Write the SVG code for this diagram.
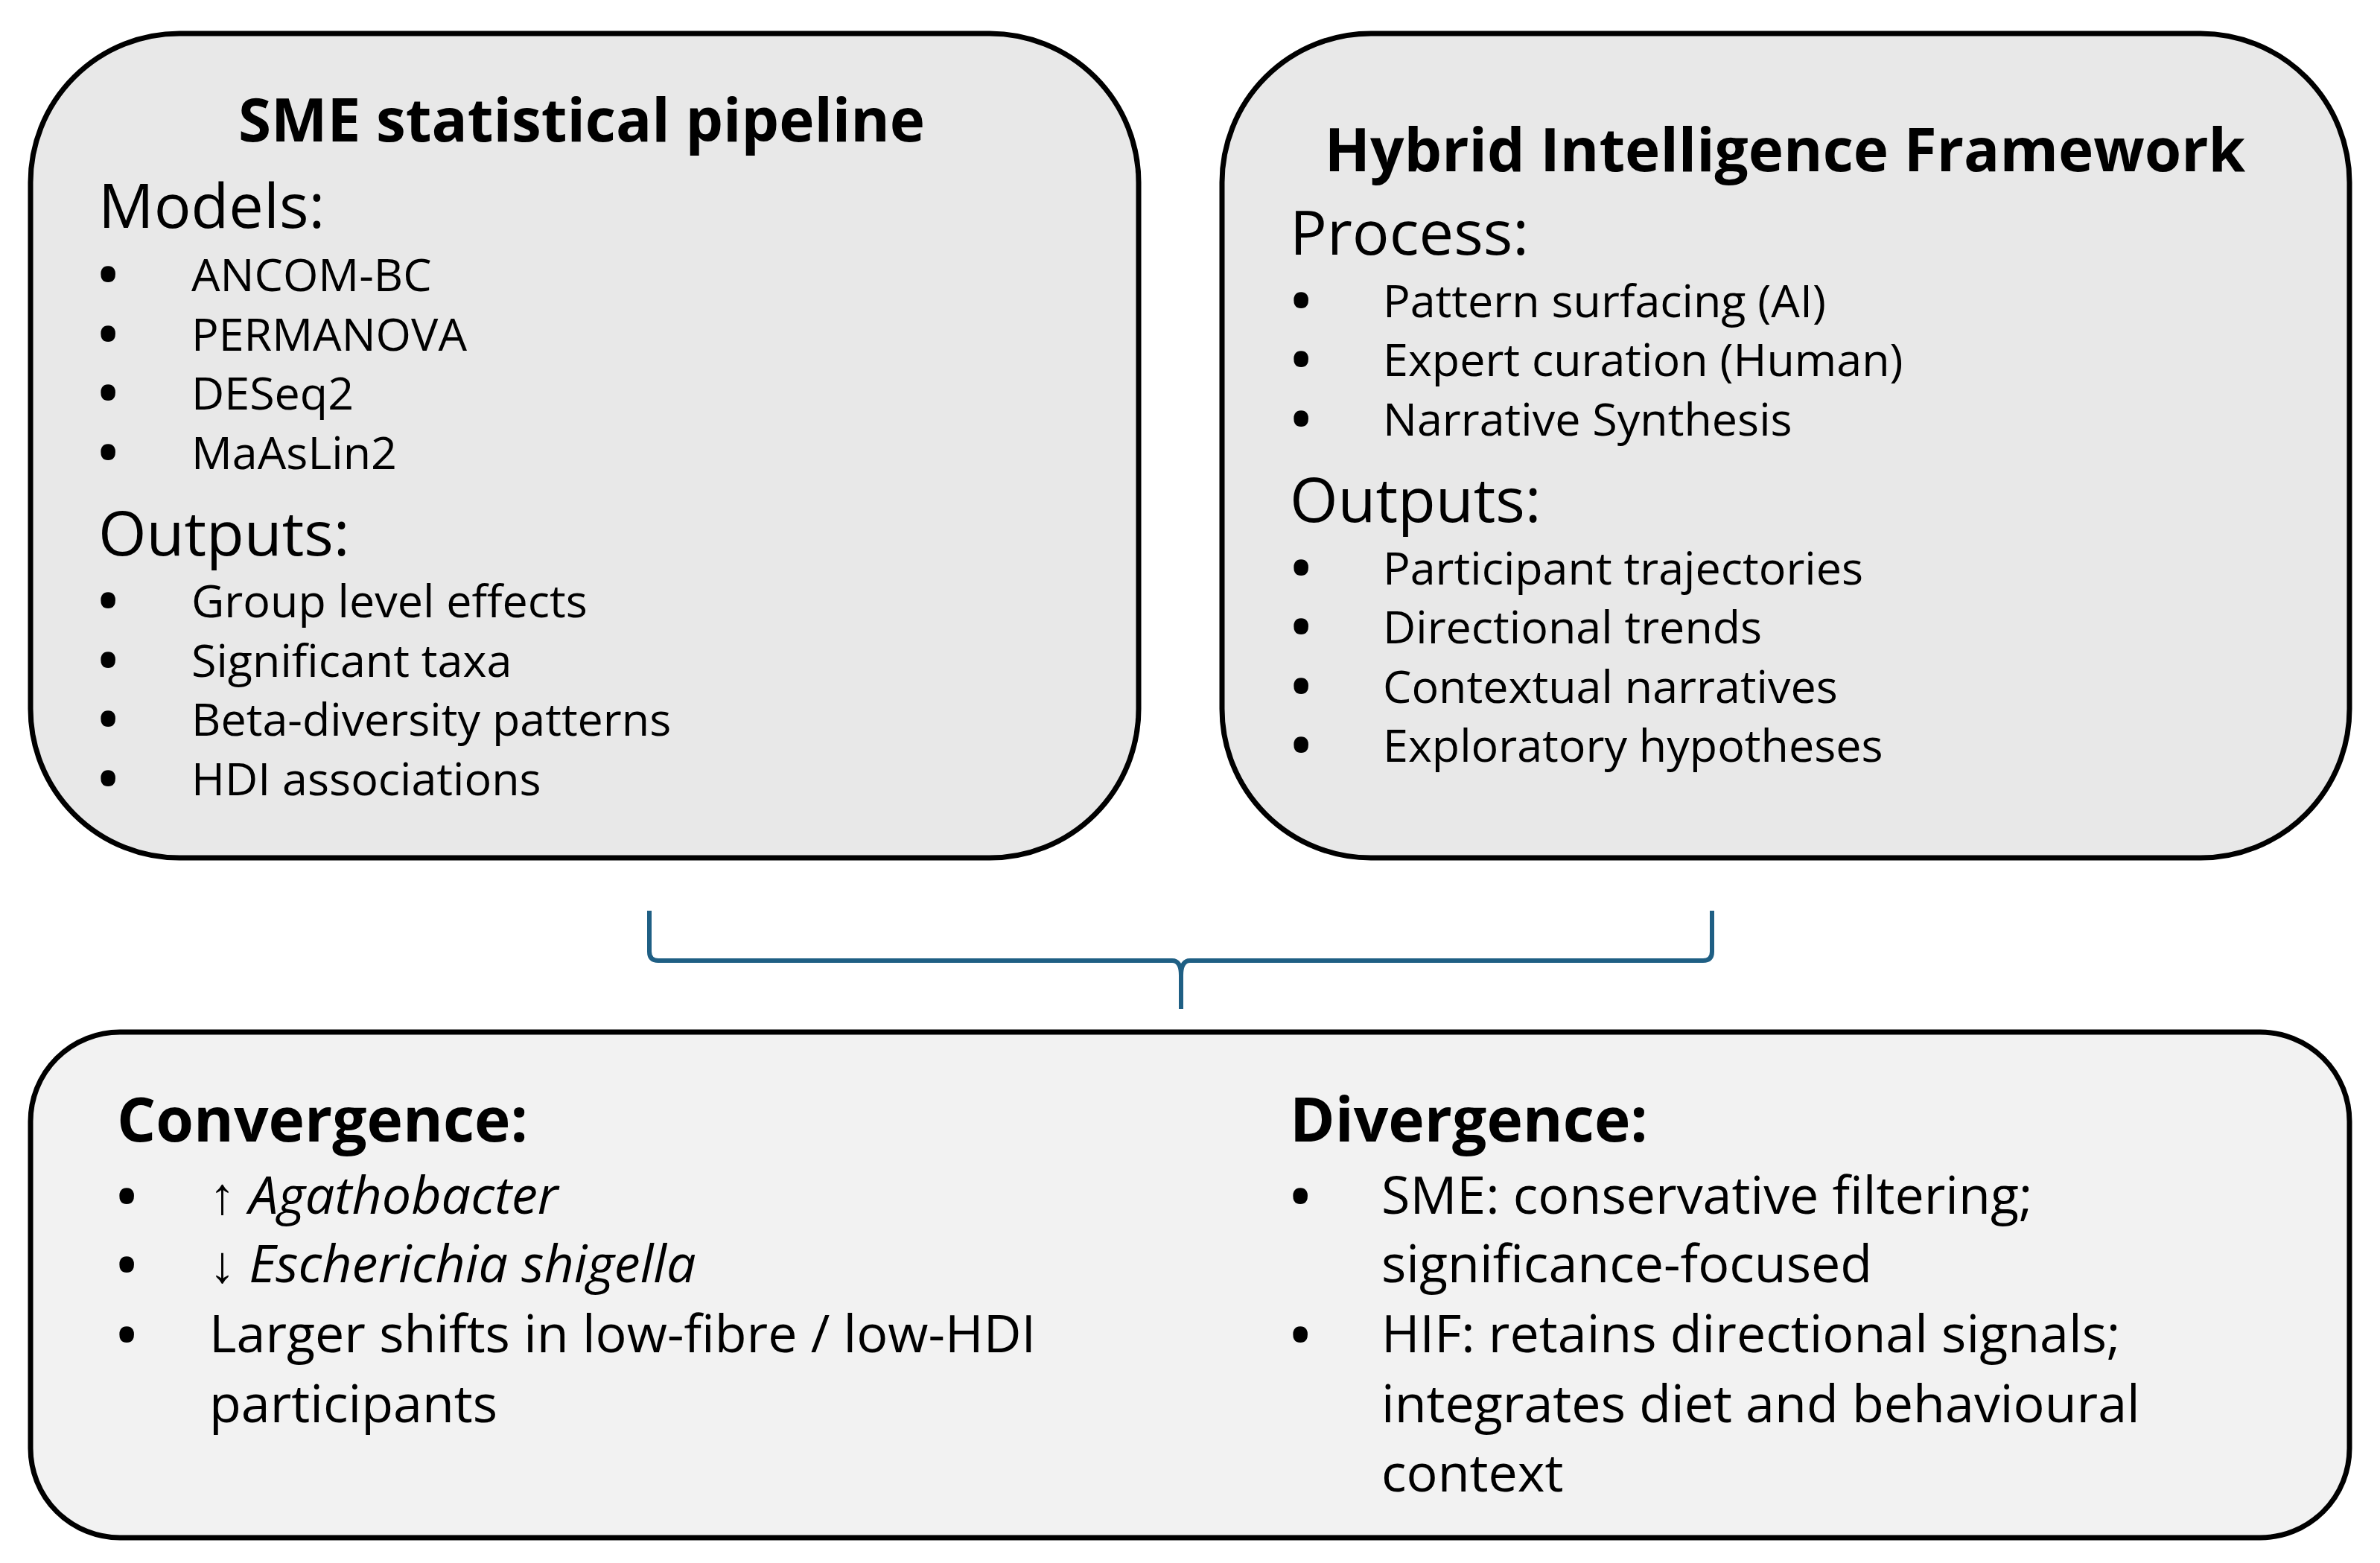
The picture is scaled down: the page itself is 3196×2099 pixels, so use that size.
<svg xmlns="http://www.w3.org/2000/svg" width="3196" height="2099" viewBox="0 0 3196 2099">
<style>
text{font-family:"Open Sans","Liberation Sans",sans-serif;fill:#000}
.t{font-weight:bold;font-size:80px;text-anchor:middle}
.h{font-size:83px}
.i{font-size:61px}
.hb{font-weight:bold;font-size:82px}
.b{font-size:70px}
.d{font-size:70px;font-weight:bold}
.box{stroke:#000;stroke-width:7}
</style>
<rect width="3196" height="2099" fill="#fff"/>
<g id="sme">
<rect class="box" x="41" y="45" width="1488" height="1107" rx="200" fill="#e8e8e8"/>
<text class="t" x="781" y="190">SME statistical pipeline</text>
<text class="h" x="132" y="306">Models:</text>
<g class="i">
<text class="d" x="132" y="394">•</text><text x="257" y="391">ANCOM-BC</text>
<text class="d" x="132" y="474">•</text><text x="257" y="471">PERMANOVA</text>
<text class="d" x="132" y="553">•</text><text x="257" y="550">DESeq2</text>
<text class="d" x="132" y="633">•</text><text x="257" y="630">MaAsLin2</text>
</g>
<text class="h" x="132" y="746">Outputs:</text>
<g class="i">
<text class="d" x="132" y="832">•</text><text x="257" y="829">Group level effects</text>
<text class="d" x="132" y="912">•</text><text x="257" y="909">Significant taxa</text>
<text class="d" x="132" y="991">•</text><text x="257" y="988">Beta-diversity patterns</text>
<text class="d" x="132" y="1071">•</text><text x="257" y="1068">HDI associations</text>
</g>
</g>
<g id="hif">
<rect class="box" x="1641" y="45" width="1514" height="1107" rx="200" fill="#e8e8e8"/>
<text class="t" x="2397" y="230">Hybrid Intelligence Framework</text>
<text class="h" x="1732" y="342">Process:</text>
<g class="i">
<text class="d" x="1734" y="429">•</text><text x="1857" y="426">Pattern surfacing (AI)</text>
<text class="d" x="1734" y="508">•</text><text x="1857" y="505">Expert curation (Human)</text>
<text class="d" x="1734" y="588">•</text><text x="1857" y="585">Narrative Synthesis</text>
</g>
<text class="h" x="1732" y="701">Outputs:</text>
<g class="i">
<text class="d" x="1734" y="788">•</text><text x="1857" y="785">Participant trajectories</text>
<text class="d" x="1734" y="867">•</text><text x="1857" y="864">Directional trends</text>
<text class="d" x="1734" y="947">•</text><text x="1857" y="944">Contextual narratives</text>
<text class="d" x="1734" y="1026">•</text><text x="1857" y="1023">Exploratory hypotheses</text>
</g>
</g>
<g id="connectors">
<path d="M872 1223 L872 1278 Q872 1290 884 1290 L1574 1290 Q1586 1290 1586 1310 L1586 1355 M1586 1310 Q1586 1290 1598 1290 L2287 1290 Q2299 1290 2299 1278 L2299 1223" fill="none" stroke="#1f5f84" stroke-width="6"/>
</g>
<g id="summary">
<rect class="box" x="41" y="1386" width="3114" height="679" rx="120" fill="#f2f2f2"/>
<text class="hb" x="157" y="1533">Convergence:</text>
<g class="b">
<text class="d" x="157" y="1632">•</text><text x="281" y="1630">↑ <tspan font-style="italic">Agathobacter</tspan></text>
<text class="d" x="157" y="1724">•</text><text x="281" y="1722">↓ <tspan font-style="italic">Escherichia shigella</tspan></text>
<text class="d" x="157" y="1818">•</text><text x="281" y="1816">Larger shifts in low-fibre / low-HDI</text>
<text x="281" y="1910">participants</text>
</g>
<text class="hb" x="1732" y="1533">Divergence:</text>
<g class="b">
<text class="d" x="1733" y="1632">•</text><text x="1855" y="1630">SME: conservative filtering;</text>
<text x="1855" y="1722">significance-focused</text>
<text class="d" x="1733" y="1818">•</text><text x="1855" y="1816">HIF: retains directional signals;</text>
<text x="1855" y="1910">integrates diet and behavioural</text>
<text x="1855" y="2003">context</text>
</g>
</g>
</svg>
